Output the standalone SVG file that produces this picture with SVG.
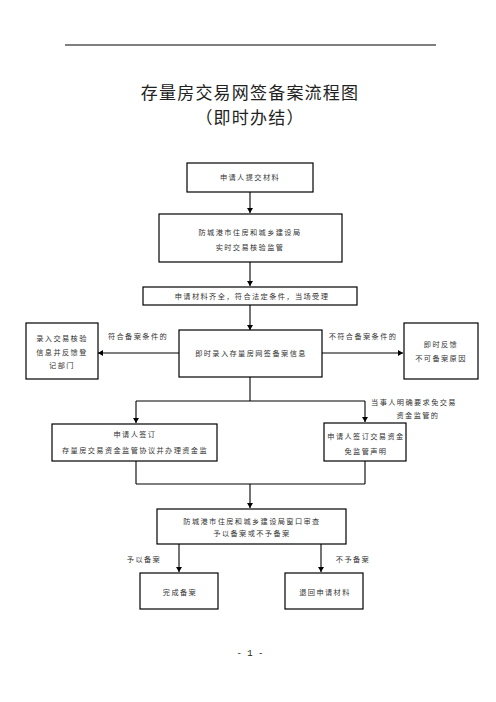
<svg xmlns="http://www.w3.org/2000/svg" width="496" height="702" viewBox="0 0 496 702">
<style>
.box{fill:#fff;stroke:#000;stroke-width:1.2}
.t{font-family:"Noto Sans CJK SC","Liberation Sans",sans-serif;font-size:7.2px;letter-spacing:1.4px;fill:#333;text-anchor:middle}
.title{font-family:"Noto Sans CJK SC","Liberation Sans",sans-serif;font-size:17px;letter-spacing:1.2px;fill:#222;text-anchor:middle}
.c{fill:none;stroke:#000;stroke-width:1.1}
</style>
<defs>
<marker id="ah" markerUnits="userSpaceOnUse" markerWidth="6" markerHeight="6" refX="5" refY="3" orient="auto">
<path d="M0,0 L5,3 L0,6 Z" fill="#000"/>
</marker>
</defs>
<rect width="496" height="702" fill="#fff"/>
<line x1="65" y1="45" x2="436" y2="45" stroke="#000" stroke-width="1"/>
<text class="title" x="250" y="98.5">存量房交易网签备案流程图</text>
<text class="title" x="250" y="123.5">（即时办结）</text>

<g id="connectors">
<line class="c" x1="250" y1="192" x2="250" y2="213" marker-end="url(#ah)"/>
<line class="c" x1="250" y1="262" x2="250" y2="286" marker-end="url(#ah)"/>
<line class="c" x1="250" y1="305" x2="250" y2="330" marker-end="url(#ah)"/>
<line class="c" x1="179" y1="353" x2="98" y2="353" marker-end="url(#ah)"/>
<line class="c" x1="322" y1="353" x2="403" y2="353" marker-end="url(#ah)"/>
<polyline class="c" points="250,377 250,401"/>
<line class="c" x1="136" y1="401" x2="365" y2="401"/>
<line class="c" x1="136" y1="401" x2="136" y2="423" marker-end="url(#ah)"/>
<line class="c" x1="365" y1="401" x2="365" y2="422" marker-end="url(#ah)"/>
<line class="c" x1="136" y1="461" x2="136" y2="484"/>
<line class="c" x1="365" y1="461" x2="365" y2="484"/>
<line class="c" x1="136" y1="484" x2="365" y2="484"/>
<line class="c" x1="250" y1="484" x2="250" y2="508" marker-end="url(#ah)"/>
<line class="c" x1="179" y1="544" x2="179" y2="572" marker-end="url(#ah)"/>
<line class="c" x1="321" y1="544" x2="321" y2="572" marker-end="url(#ah)"/>
<text class="t" x="138" y="339">符合备案条件的</text>
<text class="t" x="363" y="339">不符合备案条件的</text>
<text class="t" x="414" y="405">当事人明确要求免交易</text>
<text class="t" x="418" y="418">资金监管的</text>
<text class="t" x="144" y="562">予以备案</text>
<text class="t" x="353" y="562">不予备案</text>
</g>

<g id="n1"><rect class="box" x="187" y="163" width="126" height="29"/><text class="t" x="250" y="180">申请人提交材料</text></g>
<g id="n2"><rect class="box" x="159" y="214" width="183" height="48"/><text class="t" x="250" y="235">防城港市住房和城乡建设局</text><text class="t" x="250" y="250">实时交易核验监管</text></g>
<g id="n3"><rect class="box" x="143" y="287" width="214" height="18"/><text class="t" x="252" y="299">申请材料齐全，符合法定条件，当场受理</text></g>
<g id="n4"><rect class="box" x="179" y="330" width="143" height="47"/><text class="t" x="251" y="356">即时录入存量房网签备案信息</text></g>
<g id="n5"><rect class="box" x="26" y="323" width="72" height="56"/><text class="t" x="62" y="341">录入交易核验</text><text class="t" x="62" y="355">信息并反馈登</text><text class="t" x="62" y="368">记部门</text></g>
<g id="n6"><rect class="box" x="404" y="323" width="74" height="56"/><text class="t" x="441" y="347">即时反馈</text><text class="t" x="441" y="361">不可备案原因</text></g>
<g id="n7"><rect class="box" x="52" y="424" width="165" height="37"/><text class="t" x="135" y="437">申请人签订</text><text class="t" x="135" y="453">存量房交易资金监管协议并办理资金监</text></g>
<g id="n8"><rect class="box" x="324" y="423" width="82" height="38"/><text class="t" x="366" y="439">申请人签订交易资金</text><text class="t" x="366" y="454">免监管声明</text></g>
<g id="n9"><rect class="box" x="157" y="509" width="189" height="35"/><text class="t" x="252" y="524">防城港市住房和城乡建设局窗口审查</text><text class="t" x="252" y="536">予以备案或不予备案</text></g>
<g id="n10"><rect class="box" x="140" y="573" width="78" height="36"/><text class="t" x="180" y="595">完成备案</text></g>
<g id="n11"><rect class="box" x="285" y="573" width="78" height="36"/><text class="t" x="325" y="595">退回申请材料</text></g>
<text x="250" y="656" font-family="Liberation Mono,monospace" font-size="9" fill="#222" text-anchor="middle" xml:space="preserve">- 1 -</text>
</svg>
